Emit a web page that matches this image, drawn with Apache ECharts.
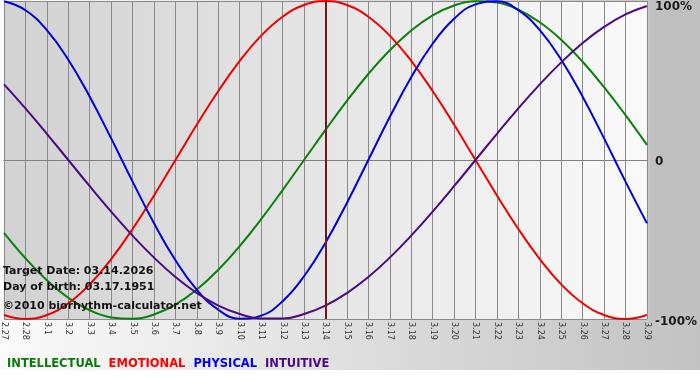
<!DOCTYPE html>
<html>
<head>
<meta charset="utf-8">
<script src="https://cdn.jsdelivr.net/npm/echarts@6/dist/echarts.min.js"></script>
<style>html,body{margin:0;padding:0;background:#fff}#c{width:700px;height:380px}</style>
</head>
<body>
<div id="c"></div>
<script>
var categories = ['2.27','2.28','3.1','3.2','3.3','3.4','3.5','3.6','3.7','3.8','3.9','3.10','3.11','3.12','3.13','3.14','3.15','3.16','3.17','3.18','3.19','3.20','3.21','3.22','3.23','3.24','3.25','3.26','3.27','3.28','3.29'];
var intellectual = [-45.8,-61.8,-75.6,-86.6,-94.5,-99.0,-99.9,-97.2,-91.0,-81.5,-69.0,-54.1,-37.2,-18.9,0,18.9,37.2,54.1,69.0,81.5,91.0,97.2,99.9,99.0,94.5,86.6,75.6,61.8,45.8,28.2,9.5];
var emotional = [-97.5,-100,-97.5,-90.1,-78.2,-62.3,-43.4,-22.3,0,22.3,43.4,62.3,78.2,90.1,97.5,100,97.5,90.1,78.2,62.3,43.4,22.3,0,-22.3,-43.4,-62.3,-78.2,-90.1,-97.5,-100,-97.5];
var physical = [99.8,94.2,81.7,63.1,39.8,13.6,-13.6,-39.8,-63.1,-81.7,-94.2,-99.8,-97.9,-88.8,-73.1,-52.0,-27.0,0,27.0,52.0,73.1,88.8,97.9,99.8,94.2,81.7,63.1,39.8,13.6,-13.6,-39.8];
var intuitive = [47.6,32.5,16.5,0,-16.5,-32.5,-47.6,-61.4,-73.6,-83.7,-91.6,-96.9,-99.7,-99.7,-96.9,-91.6,-83.7,-73.6,-61.4,-47.6,-32.5,-16.5,0,16.5,32.5,47.6,61.4,73.6,83.7,91.6,96.9];
var seriesNames = ['INTELLECTUAL','EMOTIONAL','PHYSICAL','INTUITIVE'];
var targetDay = '3.14';
var infoLines = ['Target Date: 03.14.2026','Day of birth: 03.17.1951','\u00a92010 biorhythm-calculator.net'];

var lineColors = ['#0a800a','#ee0000','#0000dd','#4b0a82'];
var legendColors = ['#0a7a0a','#ff0000','#0000ee','#4b0a82'];
var FONT = 'DejaVu Sans';

var chart = echarts.init(document.getElementById('c'), null, {renderer:'canvas'});
function mk(name, data, color, extra) {
  var s = {
    name: name, type: 'line', data: data, smooth: 0.45, symbol: 'none', clip: false,
    lineStyle: {color: color, width: 2}, itemStyle: {color: color}, z: 3
  };
  if (extra) for (var k in extra) s[k] = extra[k];
  return s;
}
var option = {
  animation: false,
  backgroundColor: {type:'linear', x:0, y:0, x2:1, y2:0, colorStops:[{offset:0,color:'#fbfbfb'},{offset:1,color:'#c2c2c2'}]},
  graphic: [
    {type:'rect', z:-1, silent:true, shape:{x:650,y:0,width:50,height:320}, style:{fill:'#c0c0c0'}},
    {type:'rect', z:-1, silent:true, shape:{x:0,y:370,width:700,height:10}, style:{fill:'#ffffff'}},
    {type:'text', z:10, left:3, top:266, style:{text:infoLines[0], font:'bold 11px "'+FONT+'"', fill:'#111'}},
    {type:'text', z:10, left:3, top:282, style:{text:infoLines[1], font:'bold 11px "'+FONT+'"', fill:'#111'}},
    {type:'text', z:10, left:3, top:301, style:{text:infoLines[2], font:'bold 11px "'+FONT+'"', fill:'#111'}}
  ],
  legend: {
    left: -3, top: 353, icon: 'none', itemWidth: 0, itemHeight: 10, itemGap: 3, selectedMode: false,
    textStyle: {fontFamily: FONT, fontWeight: 'bold', fontSize: 11.5},
    data: seriesNames.map(function(n,i){return {name:n, textStyle:{color:legendColors[i]}};})
  },
  grid: {
    left: 0, top: 1, width: 650, height: 318, show: true, borderWidth: 0,
    backgroundColor: {type:'linear', x:0, y:0, x2:1, y2:0, colorStops:[{offset:0,color:'#d2d2d2'},{offset:1,color:'#fafafa'}]}
  },
  xAxis: {
    type: 'category', data: categories, boundaryGap: false,
    axisLine: {lineStyle: {color:'#808080', width:1}},
    axisTick: {show:false},
    splitLine: {show:true, lineStyle:{color:'#8a8a8a', width:1}},
    axisLabel: {interval:0, rotate:-90, fontSize:8, fontFamily:FONT, color:'#333', margin:3}
  },
  yAxis: {
    type: 'value', position: 'right', min: -100, max: 100, interval: 100,
    axisLine: {show:false}, axisTick: {show:false},
    splitLine: {show:true, lineStyle:{color:'#8a8a8a', width:1}},
    axisLabel: {
      margin: 8,
      formatter: function(v){ return v===100 ? '{t|100%}' : (v===0 ? '{m|0}' : '{b|-100%}'); },
      rich: {
        t: {fontFamily:FONT, fontWeight:'bold', fontSize:12, color:'#1a1a1a', padding:[12,0,0,0]},
        m: {fontFamily:FONT, fontWeight:'bold', fontSize:12, color:'#1a1a1a', padding:[4,0,0,0]},
        b: {fontFamily:FONT, fontWeight:'bold', fontSize:12, color:'#1a1a1a', padding:[6,0,0,0]}
      }
    }
  },
  series: [
    mk(seriesNames[0], intellectual, lineColors[0], {
      markLine: {silent:true, symbol:['none','none'], label:{show:false}, animation:false,
        lineStyle:{color:'#6e1a1a', width:2, type:'solid'}, data:[{xAxis: targetDay}]}
    }),
    mk(seriesNames[1], emotional, lineColors[1]),
    mk(seriesNames[2], physical, lineColors[2]),
    mk(seriesNames[3], intuitive, lineColors[3])
  ]
};
chart.setOption(option);
</script>
</body>
</html>
